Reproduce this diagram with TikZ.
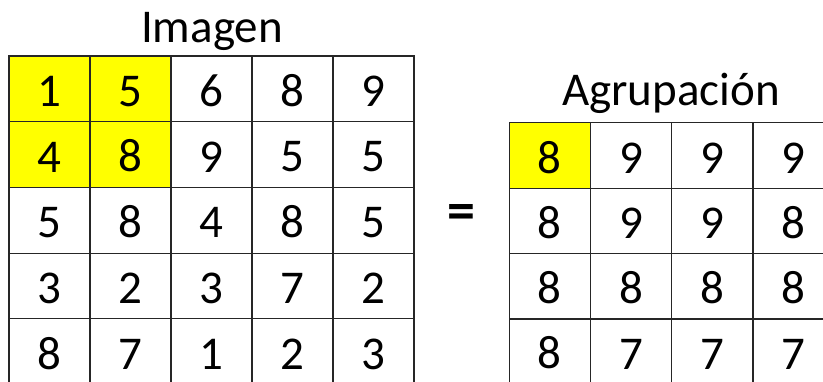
\documentclass[tikz,border=0pt]{standalone}
\usepackage{fontspec}
\setmainfont{Carlito}
\usepackage{tikz}
\usetikzlibrary{positioning,backgrounds}
\definecolor{hilite}{RGB}{255,255,0}
\tikzset{
  cellbox/.style={draw=black!85, line width=0.55pt, minimum width=81*0.5pt,
                  minimum height=65.7*0.5pt, inner sep=0pt, outer sep=0pt,
                  text height=17.6pt, font=\fontsize{23.5}{26}\selectfont},
  gridtitle/.style={anchor=base, inner sep=0pt, font=\fontsize{23.5}{26}\selectfont},
}
\begin{document}
\begin{tikzpicture}[x=0.5pt,y=-0.5pt]
\clip (0,0) rectangle (823,381);
% left grid (Imagen)
\foreach \row/\vals in {1/{1,5,6,8,9},2/{4,8,9,5,5},3/{5,8,4,8,5},4/{3,2,3,7,2},5/{8,7,1,2,3}}{
  \foreach \v [count=\col] in \vals{
    \node[cellbox] (img-\row-\col) at ({9+81*(\col-0.5)},{56+65.7*(\row-0.5)}) {\v};
  }
}
% right grid (Agrupacion)
\foreach \row/\vals in {1/{8,9,9,9},2/{8,9,9,8},3/{8,8,8,8},4/{8,7,7,7}}{
  \foreach \v [count=\col] in \vals{
    \node[cellbox] (grp-\row-\col) at ({509+81.3*(\col-0.5)},{123+65.3*(\row-0.5)}) {\v};
  }
}
% highlighted window
\begin{scope}[on background layer]
  \fill[hilite] (img-1-1.north west) rectangle (img-2-2.south east);
  \fill[hilite] (grp-1-1.north west) rectangle (grp-1-1.south east);
\end{scope}
% titles and sign
\node[gridtitle] (imgtitle) at (212,42) {Imagen};
\node[gridtitle] (grptitle) at (671,105) {Agrupación};
\node[gridtitle, anchor=center, font=\fontsize{28}{30}\bfseries] (eqsign) at (461,217) {=};
\end{tikzpicture}
\end{document}
